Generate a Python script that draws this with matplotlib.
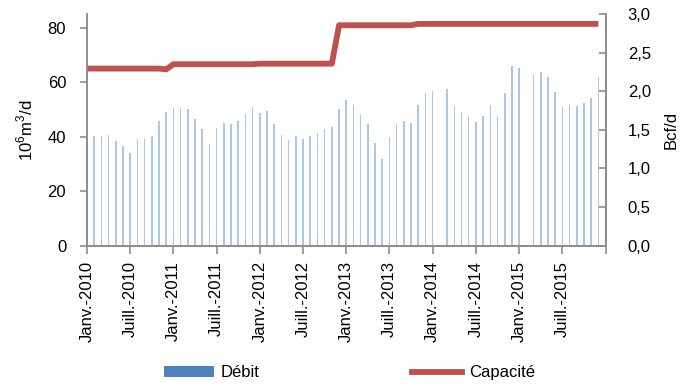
import numpy as np
import matplotlib
matplotlib.use('Agg')
import matplotlib.pyplot as plt
from matplotlib.patches import Patch
from matplotlib.lines import Line2D

plt.rcParams['font.family'] = ['Liberation Sans Narrow', 'Liberation Sans', 'DejaVu Sans']
plt.rcParams['mathtext.fontset'] = 'custom'
plt.rcParams['mathtext.rm'] = 'Liberation Sans'

# monthly data, Jan 2010 .. Dec 2015 (10^6 m3/d)
debit = [
    40.0, 40.1, 40.1, 40.5, 38.6, 36.5, 34.1, 39.2, 39.2, 40.1, 45.7, 49.2,  # 2010
    50.4, 50.4, 50.1, 46.5, 43.0, 37.4, 43.2, 44.9, 44.5, 45.9, 48.4, 50.8,  # 2011
    48.8, 49.3, 44.7, 40.5, 38.7, 40.1, 39.3, 40.1, 41.4, 42.9, 43.5, 50.2,  # 2012
    53.6, 51.5, 48.1, 44.7, 37.8, 31.8, 40.0, 44.6, 45.9, 45.2, 51.6, 56.0,  # 2013
    56.9, np.nan, 57.5, 51.3, 49.2, 47.5, 45.3, 47.5, 51.6, 47.5, 56.0, 65.8,  # 2014
    65.2, np.nan, 62.7, 63.9, 62.0, 56.5, 50.8, 51.6, 51.3, 52.2, 54.2, 61.9,  # 2015
]
capacite = (
    [65.0] * 11 + [64.7] + [66.6] * 12 + [66.8] * 11 + [80.9] * 11 + [81.4] * 26
)
tick_labels = ['Janv.-2010', 'Juill.-2010', 'Janv.-2011', 'Juill.-2011',
               'Janv.-2012', 'Juill.-2012', 'Janv.-2013', 'Juill.-2013',
               'Janv.-2014', 'Juill.-2014', 'Janv.-2015', 'Juill.-2015']

BLUE = '#4f81bd'
BAR = '#adc6e6'
RED = '#c0504d'
GREY = '#8c8c8c'
FS = 12

months = np.arange(len(debit))

fig = plt.figure(figsize=(6.85, 3.86), dpi=100)
ax = fig.add_axes([0.127, 0.3635, 0.757, 0.6])

ax.bar(months, debit, width=0.22, color=BAR, zorder=1)
ax.plot(months, capacite, color=RED, lw=4.2, solid_capstyle='butt', zorder=2)

ax.set_xlim(0, 72)
ax.set_ylim(0, 85)
ax.set_yticks([0, 20, 40, 60, 80])
ax.set_xticks(np.arange(0, 73, 6))
ax.set_xticklabels(tick_labels + [''], rotation=90)
ax.set_ylabel('10$^{\\mathregular{6}}$m$^{\\mathregular{3}}$/d', fontsize=FS, labelpad=9)

ax2 = ax.twinx()
ax2.set_ylim(0, 3.0)
ax2.set_yticks(np.arange(0, 3.01, 0.5))
ax2.set_yticklabels(['{:.1f}'.format(v).replace('.', ',') for v in np.arange(0, 3.01, 0.5)])
ax2.set_ylabel('Bcf/d', fontsize=FS, labelpad=9)

for a in (ax, ax2):
    a.spines['top'].set_visible(False)
    for s in ('left', 'right', 'bottom'):
        a.spines[s].set_color(GREY)
        a.spines[s].set_linewidth(1.2)

ax.tick_params(axis='y', direction='out', length=5, width=1.2, color=GREY, labelsize=FS, pad=10)
ax.tick_params(axis='x', direction='out', length=6, width=1.2, color=GREY, labelsize=FS, pad=5)
ax2.tick_params(axis='y', direction='in', length=5, width=1.2, color=GREY, labelsize=FS, pad=16)

handles = [Patch(facecolor=BLUE, edgecolor='none'),
           Line2D([0], [0], color=RED, lw=4.2)]
fig.legend(handles, ['Débit', 'Capacité'], loc='center', bbox_to_anchor=(0.51, 0.034),
           ncol=2, frameon=False, fontsize=FS, handlelength=3.0, handleheight=0.6,
           handletextpad=0.4, columnspacing=9.2)

fig.savefig('out.png', dpi=100)
